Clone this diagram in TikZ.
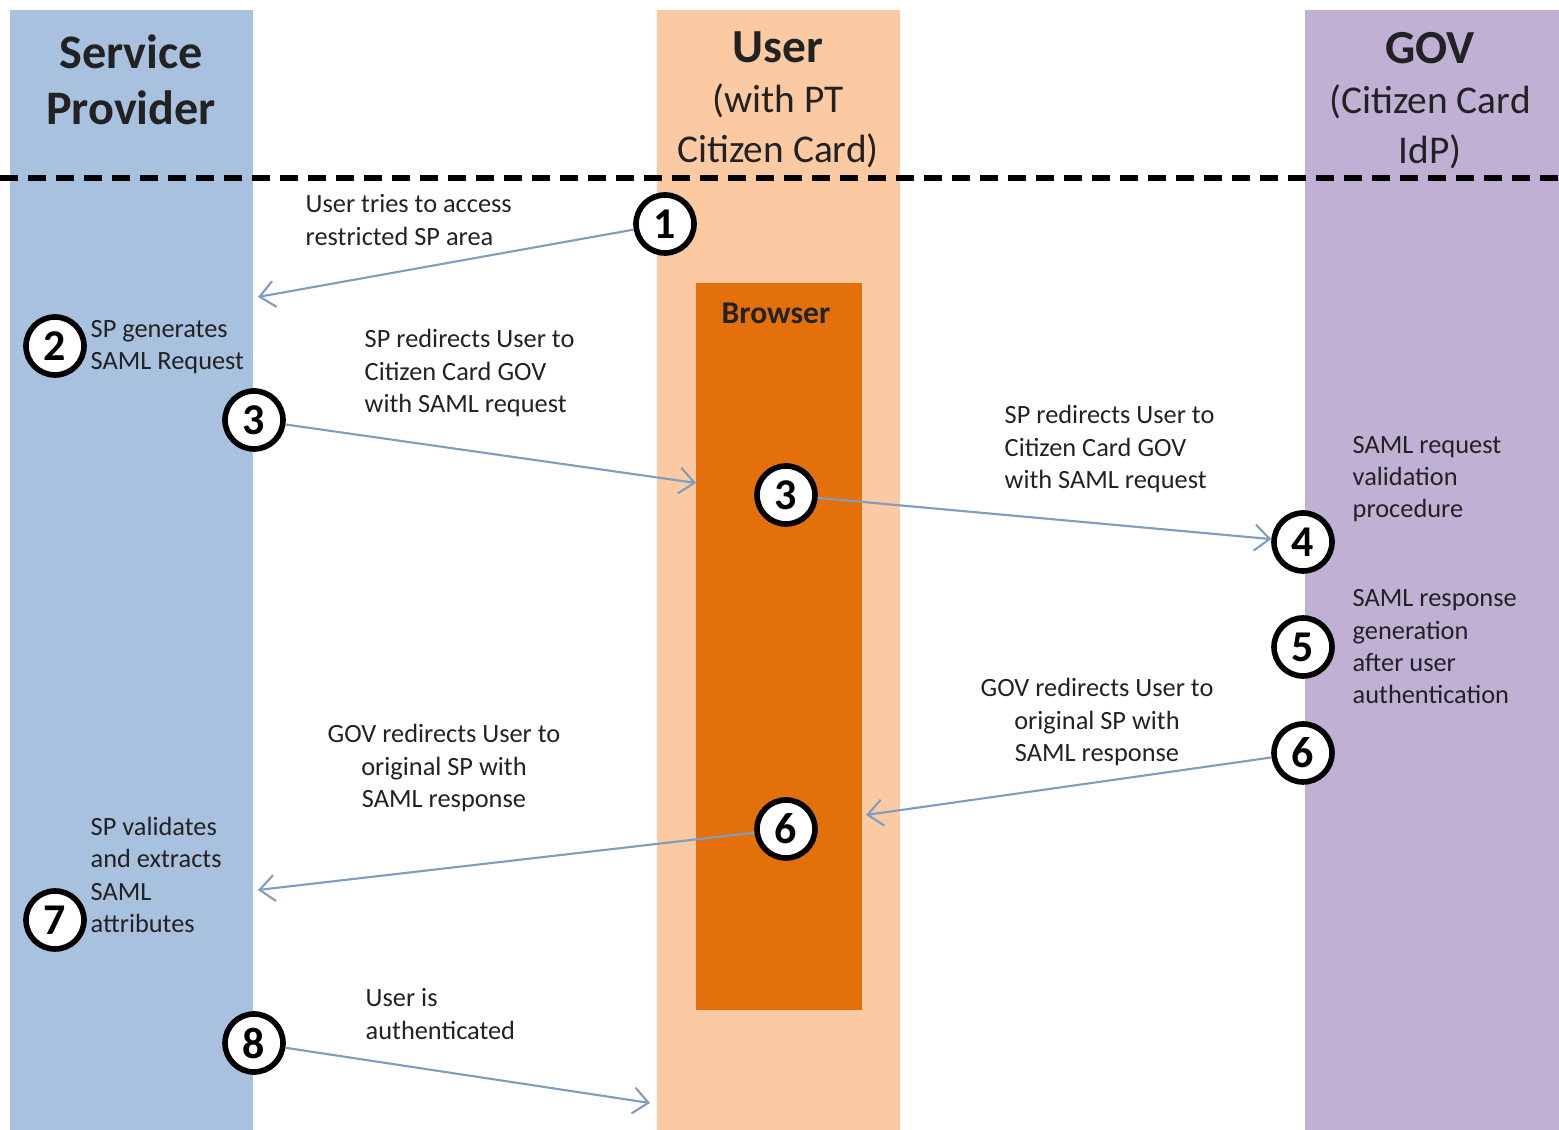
\documentclass[tikz,border=0pt]{standalone}
\usepackage{fontspec}
\setmainfont{Carlito}
\usetikzlibrary{
    arrows.meta,
    positioning
}
\definecolor{splane}{HTML}{A8C1DE}
\definecolor{userlane}{HTML}{FBCAA2}
\definecolor{govlane}{HTML}{BFB0D4}
\definecolor{browser}{HTML}{E4700C}
\definecolor{msg}{HTML}{7D9DC1}
\definecolor{dark}{HTML}{222222}
\tikzset{
    % Lane background style
    lane/.style={
        rectangle,
        fill=#1,
        draw=none,
        inner sep=0pt,
        minimum width=2.43cm,
        minimum height=11.2cm
    },
    % Lane title style
    lane title/.style={
        align=center,
        font=\fontsize{11.2}{14.2}\selectfont,
        text=dark,
        inner sep=0pt
    },
    % Numbered step style
    stepnum/.style={
        circle,
        draw=black,
        line width=1.6pt,
        fill=white,
        minimum size=0.58cm,
        inner sep=0pt,
        font=\fontsize{12.5}{12.5}\selectfont\bfseries
    },
    % Note text style
    note/.style={
        align=left,
        font=\fontsize{7.5}{9.2}\selectfont,
        text=dark,
        inner sep=0pt
    },
    % Message arrow style
    msgflow/.style={
        -{Straight Barb[length=1.5mm, width=2.6mm]},
        line width=0.6pt,
        color=msg
    }
}

\begin{document}
\begin{tikzpicture}
    \useasboundingbox (0,0) rectangle (15.59,-11.30);

    % Lanes
    \node[lane=splane] (splane) at (1.315, -5.70) {};
    \node[lane=userlane] (userlane) at (7.785, -5.70) {};
    \node[lane=govlane, minimum width=2.54cm] (govlane) at (14.32, -5.70) {};
    \node[lane=browser, minimum width=1.66cm, minimum height=7.27cm] (browserbox) at (7.79, -6.465) {};
    \node[font=\fontsize{9}{9}\selectfont\bfseries, text=dark] (browsertitle) at (7.76, -3.13) {Browser};

    % Lane titles
    \node[lane title, font=\fontsize{13.7}{16}\selectfont\bfseries] (sptitle) at (1.31, -0.80) {Service\\Provider};
    \node[lane title] (usertitle) at (7.78, -1.00) {{\fontsize{13.5}{14.2}\selectfont\bfseries User}\\(with PT\\Citizen Card)};
    \node[lane title] (govtitle) at (14.30, -1.01) {{\fontsize{13.5}{14.2}\selectfont\bfseries GOV}\\(Citizen Card\\IdP)};

    % Separator
    \coordinate (sepL) at (0, -1.78);
    \coordinate (sepR) at (15.59, -1.78);
    \draw[black, line width=1.5pt, dash pattern=on 0.18cm off 0.10cm] (sepL) -- (sepR);

    % Steps
    \node[stepnum] (s1) at (6.65, -2.24) {1};
    \node[stepnum] (s2) at (0.55, -3.46) {2};
    \node[stepnum] (s3a) at (2.54, -4.20) {3};
    \node[stepnum] (s3b) at (7.86, -4.95) {3};
    \node[stepnum] (s4) at (13.03, -5.42) {4};
    \node[stepnum] (s5) at (13.03, -6.47) {5};
    \node[stepnum] (s6a) at (13.03, -7.53) {6};
    \node[stepnum] (s6b) at (7.86, -8.29) {6};
    \node[stepnum] (s7) at (0.55, -9.20) {7};
    \node[stepnum] (s8) at (2.54, -10.43) {8};

    % Notes
    \node[note, anchor=west] (n1) at (3.05, -2.20) {User tries to access\\restricted SP area};
    \node[note, anchor=west] (n2) at (0.90, -3.47) {SP generates\\SAML Request};
    \node[note, anchor=west] (n3a) at (3.64, -3.73) {SP redirects User to\\Citizen Card GOV\\with SAML request};
    \node[note, anchor=west] (n3b) at (10.04, -4.49) {SP redirects User to\\Citizen Card GOV\\with SAML request};
    \node[note, anchor=west] (n4) at (13.52, -4.79) {SAML request\\validation\\procedure};
    \node[note, anchor=west] (n5) at (13.52, -6.47) {SAML response\\generation\\after user\\authentication};
    \node[note, align=center] (n6a) at (10.97, -7.22) {GOV redirects User to\\original SP with\\SAML response};
    \node[note, align=center] (n6b) at (4.44, -7.68) {GOV redirects User to\\original SP with\\SAML response};
    \node[note, anchor=west] (n7) at (0.90, -8.75) {SP validates\\and extracts\\SAML\\attributes};
    \node[note, anchor=west] (n8) at (3.65, -10.14) {User is\\authenticated};

    % Free arrow ends
    \coordinate (e1) at (2.58, -2.97);
    \coordinate (e3a) at (6.96, -4.83);
    \coordinate (e6a) at (8.66, -8.15);
    \coordinate (e6b) at (2.58, -8.90);
    \coordinate (e8) at (6.50, -11.03);

    % Messages
    \draw[msgflow] (s1) -- (e1);
    \draw[msgflow] (s3a) -- (e3a);
    \draw[msgflow] (s3b) -- (s4);
    \draw[msgflow] (s6a) -- (e6a);
    \draw[msgflow] (s6b) -- (e6b);
    \draw[msgflow] (s8) -- (e8);

\end{tikzpicture}
\end{document}
